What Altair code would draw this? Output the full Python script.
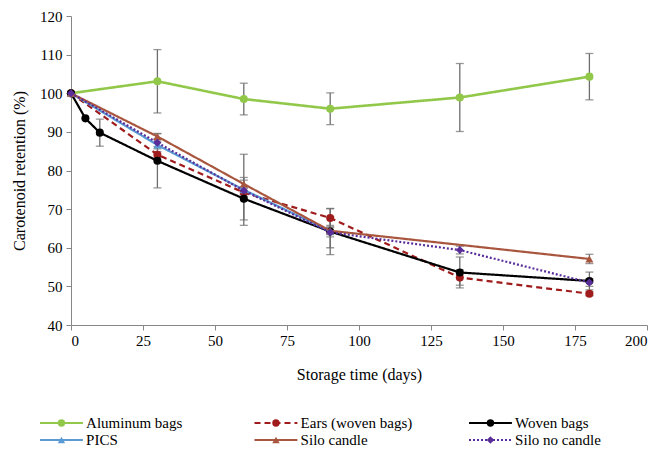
import altair as alt
import pandas as pd

series_names = ["Aluminum bags", "Ears (woven bags)", "Woven bags", "PICS", "Silo candle", "Silo no candle"]
series_colors = ["#92C84A", "#A01C1C", "#000000", "#5B9BD5", "#A9563F", "#5A2D9A"]
series_dash = [[1, 0], [6, 4], [1, 0], [1, 0], [1, 0], [2, 2]]
series_shape = ["circle", "circle", "circle", "triangle-up", "triangle-up", "diamond"]

al_days = [0, 30, 60, 90, 135, 180]
al_vals = [100, 103.1, 98.5, 96.0, 98.9, 104.3]
al_err = [0, 8.2, 4.1, 4.1, 8.8, 6.0]

ears_days = [0, 30, 60, 90, 135, 180]
ears_vals = [100, 84.1, 74.3, 67.7, 52.3, 48.1]
ears_err = [0, 0.8, 1.0, 2.4, 2.0, 0.5]

woven_days = [0, 5, 10, 30, 60, 90, 135, 180]
woven_vals = [100, 93.5, 89.8, 82.5, 72.7, 64.2, 53.6, 51.4]
woven_err = [0, 0, 3.5, 7.0, 5.5, 6.0, 4.0, 2.3]

pics_days = [0, 30, 60, 90]
pics_vals = [100, 86.6, 75.0, 64.3]
pics_err = [0, 1.0, 9.2, 1.5]

silo_days = [0, 30, 60, 90, 180]
silo_vals = [100, 88.8, 76.5, 64.4, 57.1]
silo_err = [0, 0.8, 1.0, 1.0, 1.2]

nocan_days = [0, 30, 60, 90, 135, 180]
nocan_vals = [100, 87.2, 74.8, 64.0, 59.4, 51.0]
nocan_err = [0, 1.0, 1.0, 4.0, 1.0, 1.0]

all_days = [al_days, ears_days, woven_days, pics_days, silo_days, nocan_days]
all_vals = [al_vals, ears_vals, woven_vals, pics_vals, silo_vals, nocan_vals]
all_err = [al_err, ears_err, woven_err, pics_err, silo_err, nocan_err]

x_ticks = [0, 25, 50, 75, 100, 125, 150, 175, 200]
y_ticks = [40, 50, 60, 70, 80, 90, 100, 110, 120]

# legend layout table (column / row of each entry)
leg_col = [0, 1, 2, 0, 1, 2]
leg_row = [0, 0, 0, 1, 1, 1]

FONT = "Liberation Serif, Times New Roman, serif"

rows = []
for name, ds, vs, es in zip(series_names, all_days, all_vals, all_err):
    for d, v, e in zip(ds, vs, es):
        rows.append({"series": name, "day": d, "value": v, "lo": v - e, "hi": v + e, "err": e})
df = pd.DataFrame(rows)

W, H = 576, 309

xscale = alt.Scale(domain=[0, 200], nice=False)
yscale = alt.Scale(domain=[40, 120], nice=False, zero=False)
cscale = alt.Scale(domain=series_names, range=series_colors)
dscale = alt.Scale(domain=series_names, range=series_dash)
sscale = alt.Scale(domain=series_names, range=series_shape)

x_axis = alt.Axis(title="Storage time (days)", values=x_ticks, grid=False, labelOverlap=False,
                  domainColor="#868686", tickColor="#868686", tickSize=5, domainWidth=1,
                  labelFont=FONT, labelFontSize=15, labelColor="#000000",
                  titleFont=FONT, titleFontSize=16, titleFontWeight="normal", titleColor="#000000",
                  labelPadding=3, titlePadding=18)
y_axis = alt.Axis(title="Carotenoid retention (%)", values=y_ticks, grid=False, labelOverlap=False,
                  domainColor="#868686", tickColor="#868686", tickSize=5, domainWidth=1,
                  labelFont=FONT, labelFontSize=15, labelColor="#000000",
                  titleFont=FONT, titleFontSize=16, titleFontWeight="normal", titleColor="#000000",
                  labelPadding=4, titlePadding=12)

X = lambda f: alt.X(f, scale=xscale, axis=x_axis)
Y = lambda f: alt.Y(f, scale=yscale, axis=y_axis)

base = alt.Chart(df)
errbase = alt.Chart(df[df["err"] > 0])

err_rule = errbase.mark_rule(color="#6E6E6E", strokeWidth=1.3).encode(
    x=X("day:Q"), y=Y("lo:Q"), y2="hi:Q")
cap_lo = errbase.mark_tick(color="#6E6E6E", orient="horizontal", size=8, thickness=1.3).encode(
    x=X("day:Q"), y=Y("lo:Q"))
cap_hi = errbase.mark_tick(color="#6E6E6E", orient="horizontal", size=8, thickness=1.3).encode(
    x=X("day:Q"), y=Y("hi:Q"))

layers = [err_rule, cap_lo, cap_hi]
for name in series_names:
    sub = base.transform_filter(alt.datum.series == name)
    sw = 2.6 if name == "Aluminum bags" else 2.2
    line = sub.mark_line(strokeWidth=sw).encode(
        x=X("day:Q"), y=Y("value:Q"),
        color=alt.Color("series:N", scale=cscale, legend=None),
        strokeDash=alt.StrokeDash("series:N", scale=dscale, legend=None),
    )
    pts = sub.mark_point(filled=True, opacity=1, size=65).encode(
        x=X("day:Q"), y=Y("value:Q"),
        color=alt.Color("series:N", scale=cscale, legend=None),
        shape=alt.Shape("series:N", scale=sscale, legend=None),
    )
    layers += [line, pts]

main = alt.layer(*layers)

# custom legend below the plot, drawn with its own scales
leg_df = pd.DataFrame({"series": series_names, "col": leg_col, "row": leg_row})
lx = alt.Scale(domain=[0, 3], range=[-31, 612.5], nice=False, zero=False)
ly = alt.Scale(domain=[0, 1], range=[407, 424], nice=False, zero=False)
lbase = alt.Chart(leg_df).transform_calculate(
    x1="datum.col + 0.2", xm="datum.col + 0.1", xt="datum.col + 0.215"
)
leg_line = lbase.mark_rule(strokeWidth=2.2).encode(
    x=alt.X("col:Q", scale=lx, axis=None),
    x2="x1:Q",
    y=alt.Y("row:Q", scale=ly, axis=None),
    color=alt.Color("series:N", scale=cscale, legend=None),
    strokeDash=alt.StrokeDash("series:N", scale=dscale, legend=None),
)
leg_pt = lbase.mark_point(filled=True, opacity=1, size=55).encode(
    x=alt.X("xm:Q", scale=lx, axis=None),
    y=alt.Y("row:Q", scale=ly, axis=None),
    color=alt.Color("series:N", scale=cscale, legend=None),
    shape=alt.Shape("series:N", scale=sscale, legend=None),
)
leg_txt = lbase.mark_text(align="left", baseline="middle", font=FONT, fontSize=15, color="#000000").encode(
    x=alt.X("xt:Q", scale=lx, axis=None),
    y=alt.Y("row:Q", scale=ly, axis=None),
    text="series:N",
)
legend = alt.layer(leg_line, leg_pt, leg_txt)

chart = alt.layer(main, legend).resolve_scale(x="independent", y="independent").properties(
    width=W, height=H,
    autosize=alt.AutoSizeParams(type="none"),
    padding={"left": 63, "top": 8, "right": 6, "bottom": 125},
).configure_view(stroke=None)

chart.save("out.html", embed_options={"renderer": "svg", "actions": False})
